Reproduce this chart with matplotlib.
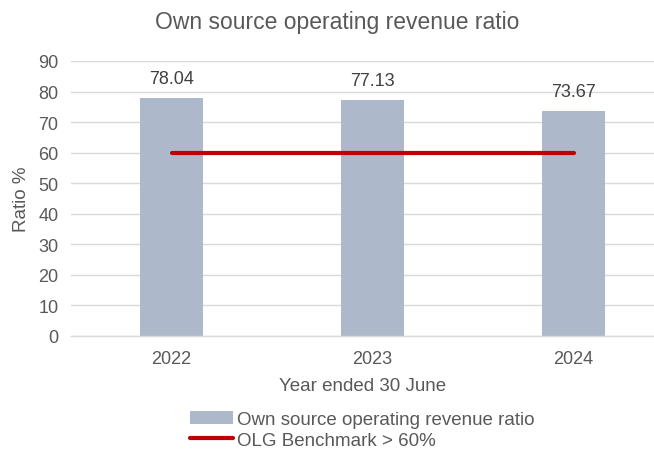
import matplotlib.pyplot as plt

plt.rcParams['font.family'] = ['Liberation Sans', 'DejaVu Sans']

# Ratio values per financial year
years = ['2022', '2023', '2024']
ratio = [78.04, 77.13, 73.67]
benchmark = [60, 60, 60]

grey = '#595959'
bar_colour = '#ADB9CA'
line_colour = '#C00000'

fig = plt.figure(figsize=(6.54, 4.52), dpi=100)
ax = fig.add_axes([71 / 654, 1 - 337 / 452, 1 - 71 / 654, (337 - 62) / 452])

x = range(len(years))
bars = ax.bar(x, ratio, width=0.313, color=bar_colour, zorder=2,
              label='Own source operating revenue ratio')
line, = ax.plot(x, benchmark, color=line_colour, linewidth=3, zorder=3,
                solid_capstyle='round', label='OLG Benchmark > 60%')

for b, v in zip(bars, ratio):
    ax.text(b.get_x() + b.get_width() / 2, v + 3.6, f'{v:.2f}',
            ha='center', va='bottom', fontsize=13, color='#404040')

ax.set_ylim(0, 90)
ax.set_yticks(range(0, 91, 10))
ax.set_xlim(-0.5, 2.4)
ax.set_xticks(list(x))
ax.set_xticklabels(years)
ax.tick_params(length=0, labelsize=13, colors=grey, pad=9)
ax.tick_params(axis='x', pad=10)
ax.grid(axis='y', color='#D9D9D9', linewidth=1, zorder=0)
for side in ['top', 'right', 'left']:
    ax.spines[side].set_visible(False)
ax.spines['bottom'].set_color('#D9D9D9')
ax.spines['bottom'].set_linewidth(1)

ax.set_xlabel('Year ended 30 June', fontsize=13.5, color=grey, labelpad=7)
ax.set_ylabel('Ratio %', fontsize=13.5, color=grey, labelpad=6)
fig.text(337 / 654, 1 - 22 / 452, 'Own source operating revenue ratio',
         ha='center', va='center', fontsize=16.5, color=grey)

fig.legend(handles=[bars, line], loc='upper left',
           bbox_to_anchor=(190 / 654, 1 - 412 / 452),
           frameon=False, fontsize=13.5, labelcolor=grey, handlelength=2.3,
           handletextpad=0.2, borderaxespad=0, borderpad=0, labelspacing=0.2)

fig.savefig('out.png', dpi=100)
